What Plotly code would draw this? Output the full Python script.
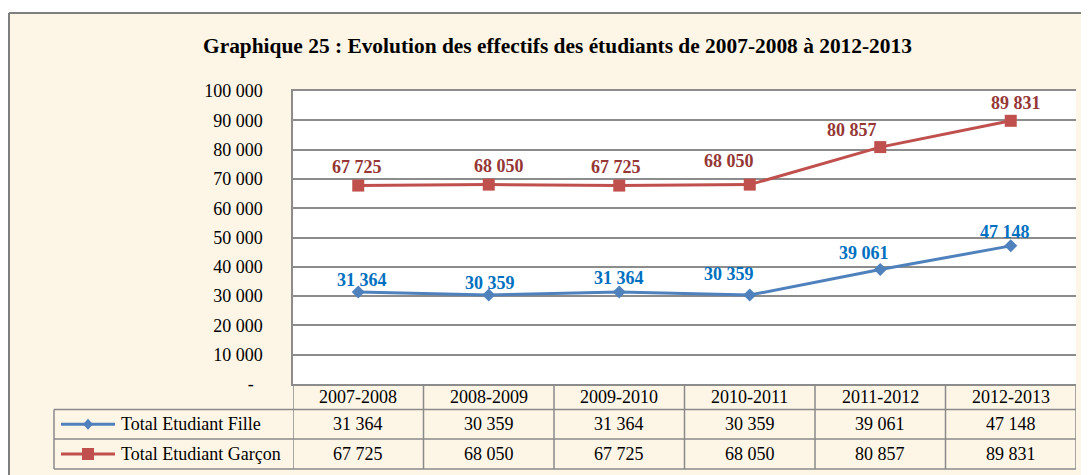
import plotly.graph_objects as go

# ---------------- data ----------------
categories = ["2007-2008", "2008-2009", "2009-2010", "2010-2011", "2011-2012", "2012-2013"]
fille = [31364, 30359, 31364, 30359, 39061, 47148]
garcon = [67725, 68050, 67725, 68050, 80857, 89831]
series_names = ["Total Etudiant Fille", "Total Etudiant Garçon"]
y_ticks = [0, 10000, 20000, 30000, 40000, 50000, 60000, 70000, 80000, 90000, 100000]
title_text = "Graphique 25 : Evolution des effectifs des étudiants de 2007-2008 à 2012-2013"

# ---------------- style ----------------
W, H = 1089, 475
OFF = 8                                  # page body margin of the html page
PL, PR, PT, PB = 293, 1076, 91, 384      # plot area, in page px
FONT = "Liberation Serif, Times New Roman, serif"
CREAM = "#FDF5E6"
GRID = "#8C8C8C"
BORDER = "#8A8A8A"
C_F_LINE, C_F_TXT = "#4F81BD", "#0070C0"
C_G_LINE, C_G_TXT = "#C0504D", "#953735"
# label offsets (px) of data labels relative to their point
f_dx = [4, 1, 0, -21, -16, -6]
f_dy = [12, 12, 14, 21, 17, 14]
g_dx = [-1, 10, -3, -21, -28, 5]
g_dy = [19, 19, 19, 24, 17, 18]


def px(x):
    return (x - PL) / (PR - PL)


def py(y):
    return (PB - y) / (PB - PT)


def fmt(v):
    return f"{v:,}".replace(",", " ")


fig = go.Figure()
fig.add_trace(go.Scatter(
    x=list(range(len(categories))), y=fille, mode="lines+markers", name=series_names[0],
    line=dict(color=C_F_LINE, width=3), marker=dict(symbol="diamond", size=10, color=C_F_LINE),
    showlegend=False, hoverinfo="skip"))
fig.add_trace(go.Scatter(
    x=list(range(len(categories))), y=garcon, mode="lines+markers", name=series_names[1],
    line=dict(color=C_G_LINE, width=3), marker=dict(symbol="square", size=12, color=C_G_LINE),
    showlegend=False, hoverinfo="skip"))

ann = []
shapes = []


def text(x, y, s, xref="paper", yref="paper", xanchor="center", **kw):
    d = dict(x=x, y=y, xref=xref, yref=yref, text=s, showarrow=False, xanchor=xanchor, yanchor="middle")
    d.update(kw)
    ann.append(d)


# data labels
for i, v in enumerate(fille):
    text(i, v, f"<b>{fmt(v)}</b>", xref="x", yref="y", xshift=f_dx[i], yshift=f_dy[i],
         font=dict(family=FONT, size=18, color=C_F_TXT))
for i, v in enumerate(garcon):
    text(i, v, f"<b>{fmt(v)}</b>", xref="x", yref="y", xshift=g_dx[i], yshift=g_dy[i],
         font=dict(family=FONT, size=18, color=C_G_TXT))

# title
text(px(557), py(46), f"<b>{title_text}</b>", font=dict(family=FONT, size=21.4, color="black"))

# page background: white strips + grey frame
shapes.append(dict(type="rect", xref="paper", yref="paper", x0=px(-20), x1=px(9), y0=py(-20), y1=py(500),
                   fillcolor="white", line=dict(width=0)))
shapes.append(dict(type="rect", xref="paper", yref="paper", x0=px(-20), x1=px(1110), y0=py(-20), y1=py(13),
                   fillcolor="white", line=dict(width=0)))
shapes.append(dict(type="line", xref="paper", yref="paper", x0=px(9), x1=px(9), y0=py(13), y1=py(500),
                   line=dict(color="#7F7F7F", width=2)))
shapes.append(dict(type="line", xref="paper", yref="paper", x0=px(9), x1=px(1110), y0=py(13), y1=py(13),
                   line=dict(color="#7F7F7F", width=2)))

# data table
ROW_TOP, ROW1, ROW2, ROW_BOT = 384, 409.5, 439, 469
LEG_L = 54
for yy in (ROW1, ROW2, ROW_BOT):
    shapes.append(dict(type="line", xref="paper", yref="paper", x0=px(LEG_L), x1=px(PR), y0=py(yy), y1=py(yy),
                       line=dict(color=BORDER, width=1.5)))
shapes.append(dict(type="line", xref="paper", yref="paper", x0=px(LEG_L), x1=px(LEG_L), y0=py(ROW1), y1=py(ROW_BOT),
                   line=dict(color=BORDER, width=1.5)))
for k in range(len(categories) + 1):
    shapes.append(dict(type="line", xref="x", yref="paper", x0=k - 0.5, x1=k - 0.5, y0=py(ROW_TOP), y1=py(ROW_BOT),
                       line=dict(color=BORDER, width=1.5)))
rows_c = [(ROW_TOP + ROW1) / 2, (ROW1 + ROW2) / 2, (ROW2 + ROW_BOT) / 2]
for i, c in enumerate(categories):
    text(i, py(rows_c[0]), c, xref="x", font=dict(family=FONT, size=18, color="black"))
    text(i, py(rows_c[1]), fmt(fille[i]), xref="x", font=dict(family=FONT, size=18, color="black"))
    text(i, py(rows_c[2]), fmt(garcon[i]), xref="x", font=dict(family=FONT, size=18, color="black"))

# legend keys in table
for r, (name, col, sym) in enumerate([(series_names[0], C_F_LINE, "diamond"), (series_names[1], C_G_LINE, "square")]):
    yc = rows_c[r + 1]
    shapes.append(dict(type="line", xref="paper", yref="paper", x0=px(61), x1=px(115), y0=py(yc), y1=py(yc),
                       line=dict(color=col, width=3)))
    if sym == "diamond":
        path = (f"M {px(88)} {py(yc - 5.5)} L {px(93)} {py(yc)} L {px(88)} {py(yc + 5.5)} "
                f"L {px(83)} {py(yc)} Z")
        shapes.append(dict(type="path", xref="paper", yref="paper", path=path, fillcolor=col, line=dict(width=0)))
    else:
        shapes.append(dict(type="rect", xref="paper", yref="paper", x0=px(82), x1=px(94), y0=py(yc - 6),
                           y1=py(yc + 6), fillcolor=col, line=dict(width=0)))
    text(px(119), py(yc), name, xanchor="left", font=dict(family=FONT, size=18, color="black"))

ticktext = ["-\u00a0\u00a0" if t == 0 else fmt(t) for t in y_ticks]

fig.update_layout(
    width=W, height=H,
    margin=dict(l=PL - OFF, r=W - (PR - OFF), t=PT - OFF, b=H - (PB - OFF), pad=0),
    paper_bgcolor=CREAM, plot_bgcolor="white",
    font=dict(family=FONT, size=18, color="black"),
    xaxis=dict(range=[-0.5, len(categories) - 0.5], showticklabels=False, showgrid=False, zeroline=False,
               showline=True, mirror=True, linecolor=GRID, linewidth=1.5, ticks=""),
    yaxis=dict(range=[0, 100000], tickvals=y_ticks, ticktext=ticktext, showgrid=True, gridcolor=GRID,
               gridwidth=1.5, zeroline=False, showline=True, linecolor=GRID, linewidth=1.5, ticks="",
               ticklabelstandoff=25, tickfont=dict(family=FONT, size=18, color="black")),
    annotations=ann, shapes=shapes, showlegend=False,
)

fig.write_html("out.html")
